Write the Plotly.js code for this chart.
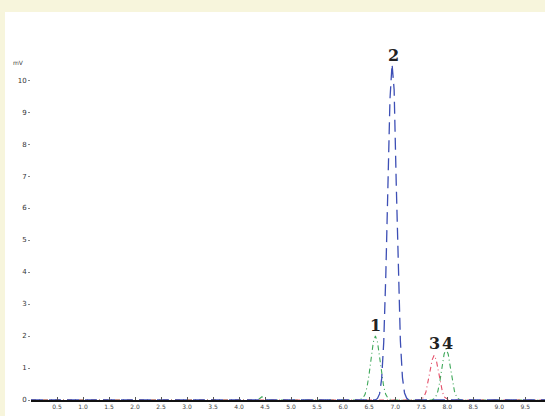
<!DOCTYPE html>
<html>
<head>
<meta charset="utf-8">
<script src="https://cdn.plot.ly/plotly-3.0.1.min.js"></script>
<style>
  html, body { margin: 0; padding: 0; background: #f7f5dc; width: 545px; height: 416px; overflow: hidden; }
  #chart { position: absolute; left: 5px; top: 12px; width: 540px; height: 404px; background: #ffffff; }
</style>
</head>
<body>
<div id="chart"></div>
<script>
// Retention time (min) and detector signal
const blueTime   = [0, 6.62, 6.66, 6.70, 6.74, 6.78, 6.82, 6.86, 6.90, 6.94, 6.98, 7.02, 7.06, 7.10, 7.14, 7.18, 7.22, 7.26, 9.88];
const blueSignal = [0, 0.00, 0.05, 0.19, 0.66, 1.80, 3.90, 6.75, 9.40, 10.50, 9.70, 6.80, 3.95, 1.85, 0.70, 0.22, 0.06, 0.00, 0];

const greenTime   = [0, 4.36, 4.44, 4.52, 6.30, 6.34, 6.38, 6.42, 6.46, 6.50, 6.54, 6.58, 6.62, 6.66, 6.70, 6.74, 6.78, 6.82, 6.86, 6.90, 6.94,
                     7.70, 7.74, 7.78, 7.82, 7.86, 7.90, 7.94, 7.98, 8.02, 8.06, 8.10, 8.14, 8.18, 8.22, 8.26, 9.88];
const greenSignal = [0, 0.00, 0.10, 0.00, 0.00, 0.02, 0.06, 0.17, 0.41, 0.82, 1.35, 1.81, 2.00, 1.81, 1.35, 0.82, 0.41, 0.17, 0.06, 0.02, 0.00,
                     0.00, 0.03, 0.10, 0.27, 0.59, 1.03, 1.43, 1.60, 1.43, 1.03, 0.59, 0.27, 0.10, 0.03, 0.00, 0];

const redTime   = [0, 7.47, 7.51, 7.55, 7.59, 7.63, 7.67, 7.71, 7.75, 7.79, 7.83, 7.87, 7.91, 7.95, 7.99, 8.03, 9.88];
const redSignal = [0, 0.00, 0.03, 0.09, 0.24, 0.52, 0.90, 1.25, 1.40, 1.25, 0.90, 0.52, 0.24, 0.09, 0.03, 0.00, 0];

const xTicks = [0.5, 1.0, 1.5, 2.0, 2.5, 3.0, 3.5, 4.0, 4.5, 5.0, 5.5, 6.0, 6.5, 7.0, 7.5, 8.0, 8.5, 9.0, 9.5];
const yTicks = [0, 1, 2, 3, 4, 5, 6, 7, 8, 9, 10];

const peakLabels = ["1", "2", "3", "4"];
const peakLabelX = [6.63, 6.96, 7.75, 8.00];
const peakLabelY = [2.34, 10.78, 1.78, 1.78];

const traces = [
  { x: greenTime, y: greenSignal, type: 'scatter', mode: 'lines',
    line: { color: '#3fa85a', width: 1.1, dash: '5px,3px,1px,3px' }, hoverinfo: 'skip' },
  { x: redTime, y: redSignal, type: 'scatter', mode: 'lines',
    line: { color: '#e4506a', width: 1.1, dash: '5px,3px,1px,3px' }, hoverinfo: 'skip' },
  { x: blueTime, y: blueSignal, type: 'scatter', mode: 'lines',
    line: { color: '#3d4fb5', width: 1.3, dash: '12px,6px' }, hoverinfo: 'skip' }
];

const annotations = peakLabels.map((t, i) => ({
  x: peakLabelX[i], y: peakLabelY[i], xref: 'x', yref: 'y', text: '<b>' + t + '</b>', showarrow: false,
  font: { family: 'DejaVu Serif, Liberation Serif, serif', size: 16, color: '#222' }
}));
annotations.push({
  x: -0.01, y: 10.55, xref: 'paper', yref: 'y', xanchor: 'right', text: 'mV', showarrow: false,
  font: { family: 'DejaVu Sans, sans-serif', size: 6, color: '#444' }
});

const layout = {
  width: 540, height: 404,
  margin: { l: 26, r: 0, t: 30, b: 16 },
  paper_bgcolor: '#ffffff', plot_bgcolor: '#ffffff',
  showlegend: false,
  xaxis: {
    range: [0, 9.88], tickvals: xTicks, ticktext: xTicks.map(v => v.toFixed(1)),
    showgrid: false, zeroline: false, showline: true, linecolor: '#111', linewidth: 1.6,
    ticks: 'inside', ticklen: 3, tickcolor: '#555',
    tickfont: { family: 'DejaVu Sans, sans-serif', size: 6, color: '#444' }
  },
  yaxis: {
    range: [0, 11.19], tickvals: yTicks, ticktext: yTicks.map(v => String(v)),
    showgrid: false, zeroline: false, showline: false,
    ticks: 'outside', ticklen: 2, tickcolor: '#888',
    tickfont: { family: 'DejaVu Sans, sans-serif', size: 7, color: '#333' }
  },
  annotations: annotations
};

Plotly.newPlot('chart', traces, layout, { displayModeBar: false, staticPlot: true });
</script>
</body>
</html>
